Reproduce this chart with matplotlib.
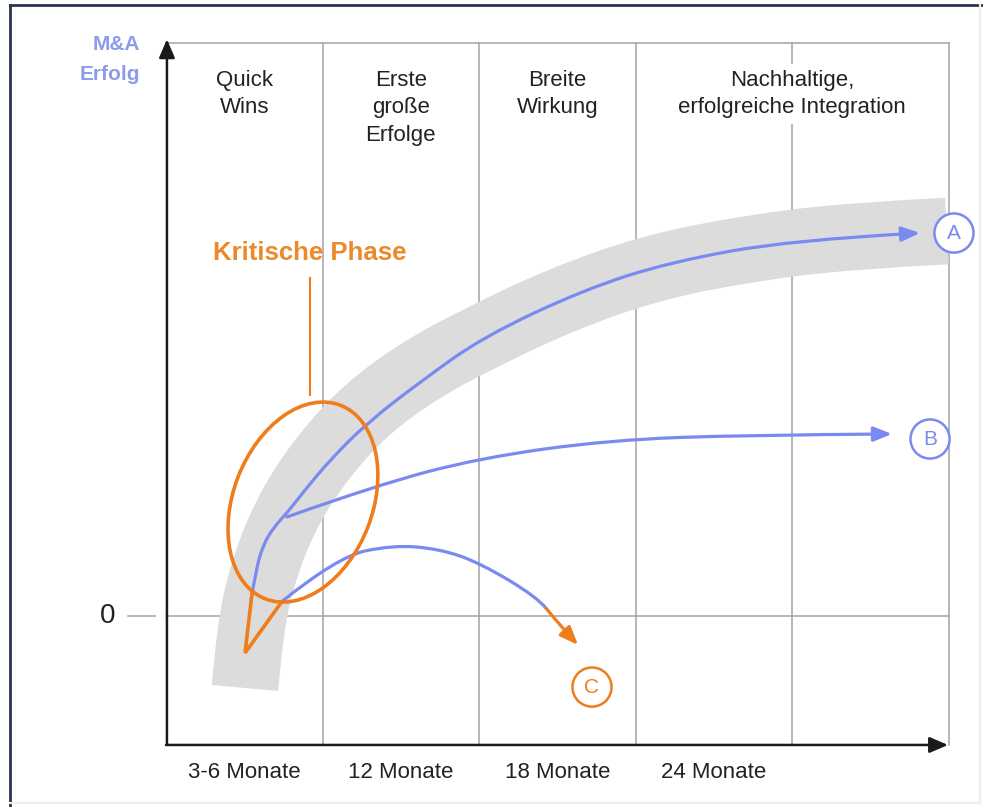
import numpy as np
import matplotlib
matplotlib.use("Agg")
import matplotlib.pyplot as plt
from matplotlib.path import Path
from matplotlib.patches import PathPatch, FancyArrowPatch, Ellipse, Circle
from matplotlib.lines import Line2D

plt.rcParams["font.family"] = ["Liberation Sans", "DejaVu Sans"]

# phases along the time axis (one unit = one phase column)
phase_labels = ["Quick\nWins", "Erste\ngroße\nErfolge", "Breite\nWirkung",
                "Nachhaltige,\nerfolgreiche Integration"]
phase_pos = [0.5, 1.5, 2.5, 4.0]
month_labels = ["3-6 Monate", "12 Monate", "18 Monate", "24 Monate"]
month_pos = [0.5, 1.5, 2.5, 3.5]
grid_x = [1, 2, 3, 4, 5]

# grey corridor of expected success
band_x = [0.505, 0.537, 0.613, 0.760, 0.984, 1.272, 1.623, 2.006, 2.518, 3.093, 3.732, 4.371, 4.990]
band_y = [-0.46, -0.089, 0.262, 0.645, 0.997, 1.316, 1.572, 1.776, 2.019, 2.224, 2.351, 2.428, 2.460]

# scenario A, B, C
a_x = [0.543, 0.575, 0.620, 0.690, 0.773, 0.888, 1.048, 1.284, 1.623, 2.026, 2.665, 3.220, 4.006, 4.818]
a_y = [0.102, 0.294, 0.454, 0.569, 0.658, 0.805, 0.997, 1.233, 1.495, 1.783, 2.083, 2.262, 2.403, 2.447]
b_x = [0.773, 1.348, 2.006, 2.837, 3.732, 4.639]
b_y = [0.633, 0.837, 1.010, 1.125, 1.157, 1.163]
c_x = [0.728, 1.093, 1.450, 1.751, 2.006, 2.371, 2.430]
c_y = [0.083, 0.377, 0.454, 0.428, 0.339, 0.121, 0.048]
c_end_x = [2.430, 2.530, 2.633]
c_end_y = [0.048, -0.075, -0.185]

# critical phase marker
tail_x = [0.550, 0.505, 0.734]
tail_y = [0.147, -0.236, 0.083]

BLUE = "#7b8af0"
ORANGE = "#ef7d1b"
GREY = "#a3a3a3"


def smooth_path(xs, ys):
    pts = np.column_stack([xs, ys])
    verts = [pts[0]]
    codes = [Path.MOVETO]
    for i in range(1, len(pts) - 1):
        verts += [pts[i], (pts[i] + pts[i + 1]) / 2]
        codes += [Path.CURVE3, Path.CURVE3]
    verts[-1] = pts[-1]
    return Path(verts, codes)


fig = plt.figure(figsize=(9.83, 8.07), dpi=100)
ax = fig.add_axes([0, 0, 1, 1])
ax.set_xlim(-1.0607, 5.2204)
ax.set_ylim(-1.2204, 3.9361)
ax.axis("off")

# frame
fig.add_artist(Line2D([0.010, 0.010], [0.0, 0.994], color="#2a3350", lw=2, transform=fig.transFigure))
fig.add_artist(Line2D([0.010, 1.0], [0.994, 0.994], color="#2a3350", lw=2, transform=fig.transFigure))
fig.add_artist(Line2D([0.997, 0.997], [0.005, 0.994], color="#eeeeee", lw=1.5, transform=fig.transFigure))
fig.add_artist(Line2D([0.010, 0.997], [0.005, 0.005], color="#eeeeee", lw=1.5, transform=fig.transFigure))

y_top, y_bot = 3.661, -0.824

# grid
for gx in grid_x:
    ax.plot([gx, gx], [y_bot, y_top], color=GREY, lw=1.1, zorder=1)
ax.plot([0, 5], [y_top, y_top], color=GREY, lw=1.1, zorder=1)
ax.plot([0, 5], [0, 0], color=GREY, lw=1.1, zorder=1)
ax.plot([-0.243, -0.07], [0, 0], color=GREY, lw=1.1, zorder=1)
ax.text(-0.375, 0, "0", fontsize=20, ha="center", va="center", color="#222222")

# axes arrows
ax.annotate("", xy=(4.997, y_bot), xytext=(0, y_bot),
            arrowprops=dict(arrowstyle="-|>,head_length=0.7,head_width=0.3", color="#1a1a1a",
                            lw=1.8, shrinkA=0, shrinkB=0, mutation_scale=16), zorder=6)
ax.annotate("", xy=(0.006, 3.685), xytext=(0.006, y_bot),
            arrowprops=dict(arrowstyle="-|>,head_length=0.7,head_width=0.3", color="#1a1a1a",
                            lw=1.8, shrinkA=0, shrinkB=0, mutation_scale=16), zorder=6)

# labels
for lab, px in zip(phase_labels, phase_pos):
    ax.text(px, 3.49, lab, ha="center", va="top", fontsize=16, color="#222222", linespacing=1.4,
            bbox=dict(facecolor="white", edgecolor="none", pad=4), zorder=3)
for lab, px in zip(month_labels, month_pos):
    ax.text(px, -1.0, lab, ha="center", va="center", fontsize=16, color="#222222")
ax.text(-0.165, 3.556, "M&A\nErfolg", ha="right", va="center", fontsize=15, fontweight="bold",
        color="#8d9ce8", linespacing=1.7)

# band
ax.add_patch(PathPatch(smooth_path(band_x, band_y), fill=False, lw=48, edgecolor="#dcdcdc",
                       capstyle="butt", joinstyle="round", zorder=2))

# scenario curves
arrow_style = "-|>,head_length=0.55,head_width=0.22"
for xs, ys in [(a_x, a_y), (b_x, b_y)]:
    ax.add_patch(FancyArrowPatch(path=smooth_path(xs, ys), arrowstyle=arrow_style,
                                 mutation_scale=20, color=BLUE, lw=2.3, zorder=4))
ax.add_patch(PathPatch(smooth_path(c_x, c_y), fill=False, lw=2.3, edgecolor=BLUE,
                       capstyle="round", zorder=4))
ax.add_patch(FancyArrowPatch(path=smooth_path(c_end_x, c_end_y), arrowstyle=arrow_style,
                             mutation_scale=20, color=ORANGE, lw=2.3, zorder=4))

# circled letters
for letter, cx, cy, col in [("A", 5.035, 2.447, BLUE), ("B", 4.882, 1.131, BLUE),
                            ("C", 2.722, -0.454, ORANGE)]:
    ax.add_patch(Circle((cx, cy), 0.125, fill=True, facecolor="white", edgecolor=col, lw=1.8, zorder=5))
    ax.text(cx, cy, letter, ha="center", va="center", fontsize=15, color=col, zorder=6)

# critical phase
ax.add_patch(Ellipse((0.875, 0.728), 1.327, 0.889, angle=68.8, fill=False,
                     edgecolor=ORANGE, lw=2.6, zorder=5))
ax.plot(tail_x, tail_y, color=ORANGE, lw=2.6, zorder=5, solid_joinstyle="miter")
ax.plot([0.920, 0.920], [2.160, 1.412], color=ORANGE, lw=1.5, zorder=5)
ax.text(0.920, 2.319, "Kritische Phase", ha="center", va="center", fontsize=18.5,
        fontweight="bold", color="#ea8a2a", zorder=5)

fig.savefig("out.png", dpi=100, facecolor="white")
